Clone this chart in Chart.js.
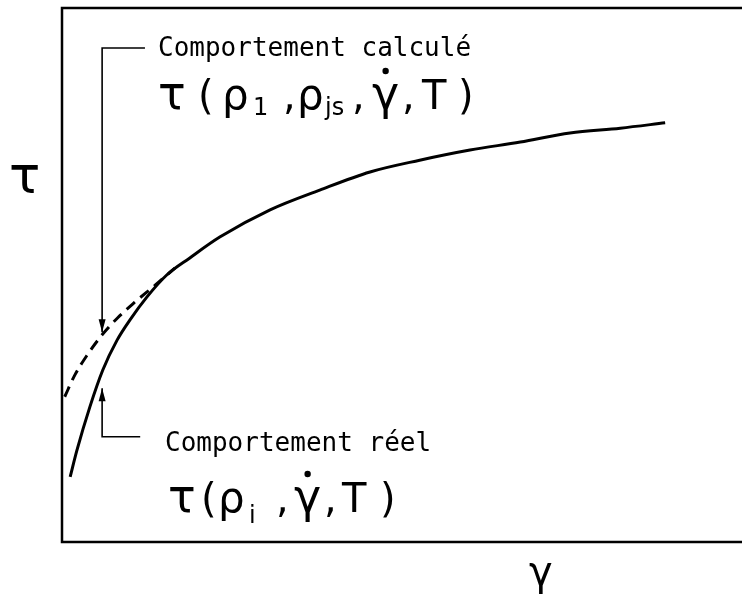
<!DOCTYPE html>
<html><head><meta charset="utf-8">
<script src="https://cdn.jsdelivr.net/npm/chart.js@4/dist/chart.umd.min.js"></script>
<style>html,body{margin:0;padding:0;background:#fff}#c{display:block}</style>
</head><body>
<canvas id="c" width="742" height="598"></canvas>
<script>
// ---- data (arbitrary units 0..100) ----
const realX = [1.2, 2.2, 4.1, 6.0, 8.1, 10.0, 12.5, 15.4, 18.8, 23.2, 30.6, 37.9, 45.3, 52.6, 60.0, 67.4, 74.7, 82.1, 88.7];
const realY = [12.2, 17.2, 25.3, 32.2, 37.8, 41.6, 45.9, 50.0, 53.2, 57.1, 62.2, 65.9, 69.3, 71.5, 73.4, 74.9, 76.6, 77.5, 78.5];
const calcX = [0.4, 1.9, 3.7, 5.9, 8.2, 10.7, 13.7, 16.6];
const calcY = [27.2, 31.3, 35.0, 38.8, 42.0, 44.9, 48.1, 51.3];
const arrowCalcX = [12.2, 5.9, 5.9];
const arrowCalcY = [92.5, 92.5, 39.3];
const arrowRealX = [11.5, 5.9, 5.9];
const arrowRealY = [19.7, 19.7, 28.8];
const axisMin = 0, axisMax = 100;
const labelCalc = 'Comportement calculé';
const labelReal = 'Comportement réel';
const axisTitleY = 'τ';
const axisTitleX = 'γ';

const toPts = (xs, ys) => xs.map((x, i) => ({x, y: ys[i]}));

const MONO = '"DejaVu Sans Mono"';
const SANS = '"DejaVu Sans"';

// formula pieces: text, x position (px), kind
const formulaCalc = [
  ['τ', 158, 'big'], ['(', 198, 'mid'], ['ρ', 222, 'rho'], ['1', 253, 'sub'],
  [',', 283, 'mid'], ['ρ', 297, 'rho'], ['js', 325, 'sub'], [',', 352, 'mid'],
  ['γ', 372, 'dot'], [',', 402, 'mid'], ['T', 422, 'mid'], [')', 458, 'mid']
];
const formulaReal = [
  ['τ', 168, 'big'], ['(', 201, 'mid'], ['ρ', 218, 'rho'], ['i', 249, 'sub'],
  [',', 276, 'mid'], ['γ', 294, 'dot'], [',', 324, 'mid'], ['T', 342, 'mid'], [')', 380, 'mid']
];

function drawFormula(ctx, pieces, base, subDy) {
  pieces.forEach(([t, x, kind]) => {
    if (kind === 'sub') {
      ctx.font = '24px ' + SANS;
      ctx.fillText(t, x, base + subDy);
    } else if (kind === 'mid') {
      ctx.font = '40px ' + SANS;
      ctx.fillText(t, x, base);
    } else if (kind === 'rho') {
      ctx.font = '42px ' + SANS;
      ctx.fillText(t, x, base);
    } else {
      ctx.font = '46px ' + SANS;
      ctx.fillText(t, x, base);
      if (kind === 'dot') {
        const w = ctx.measureText(t).width;
        ctx.beginPath();
        ctx.arc(x + w / 2, base - 38, 3.2, 0, Math.PI * 2);
        ctx.fill();
      }
    }
  });
}

const framePlugin = {
  id: 'frame',
  beforeDatasetsDraw(chart) {
    const {ctx, chartArea: a} = chart;
    ctx.save();
    ctx.strokeStyle = '#000';
    ctx.lineWidth = 2.5;
    ctx.beginPath();
    ctx.moveTo(chart.width, a.top);
    ctx.lineTo(a.left, a.top);
    ctx.lineTo(a.left, a.bottom);
    ctx.lineTo(chart.width, a.bottom);
    ctx.stroke();
    ctx.restore();
  },
  afterDatasetsDraw(chart) {
    const ctx = chart.ctx;
    chart.data.datasets.forEach((ds, i) => {
      if (!ds.arrow) return;
      const pts = chart.getDatasetMeta(i).data;
      const p1 = pts[pts.length - 2], p2 = pts[pts.length - 1];
      const ang = Math.atan2(p2.y - p1.y, p2.x - p1.x);
      const L = 13, W = 3.5;
      ctx.save();
      ctx.fillStyle = '#000';
      ctx.translate(p2.x, p2.y);
      ctx.rotate(ang);
      ctx.beginPath();
      ctx.moveTo(0, 0);
      ctx.lineTo(-L, -W);
      ctx.lineTo(-L, W);
      ctx.closePath();
      ctx.fill();
      ctx.restore();
    });
  },
  afterDraw(chart) {
    const ctx = chart.ctx;
    ctx.save();
    ctx.fillStyle = '#000';
    ctx.textBaseline = 'alphabetic';
    ctx.font = '26px ' + MONO;
    ctx.fillText(labelCalc, 158, 56);
    ctx.fillText(labelReal, 165, 451);
    drawFormula(ctx, formulaCalc, 109, 6);
    drawFormula(ctx, formulaReal, 512, 11);
    ctx.font = '52px ' + SANS;
    ctx.fillText(axisTitleY, 9, 193);
    ctx.font = '40px ' + SANS;
    ctx.fillText(axisTitleX, 529, 585);
    ctx.restore();
  }
};

new Chart(document.getElementById('c'), {
  type: 'scatter',
  data: {
    datasets: [
      {data: toPts(realX, realY), showLine: true, borderColor: '#000', borderWidth: 3, pointRadius: 0, cubicInterpolationMode: 'monotone'},
      {data: toPts(calcX, calcY), showLine: true, borderColor: '#000', borderWidth: 3, borderDash: [11, 7], pointRadius: 0, cubicInterpolationMode: 'monotone'},
      {data: toPts(arrowCalcX, arrowCalcY), showLine: true, borderColor: '#000', borderWidth: 1.6, pointRadius: 0, tension: 0, arrow: true},
      {data: toPts(arrowRealX, arrowRealY), showLine: true, borderColor: '#000', borderWidth: 1.6, pointRadius: 0, tension: 0, arrow: true}
    ]
  },
  options: {
    responsive: false,
    devicePixelRatio: 1,
    animation: false,
    layout: {padding: {left: 62, top: 8, right: 0, bottom: 56}},
    scales: {
      x: {type: 'linear', min: axisMin, max: axisMax, display: false},
      y: {type: 'linear', min: axisMin, max: axisMax, display: false}
    },
    plugins: {legend: {display: false}, tooltip: {enabled: false}}
  },
  plugins: [framePlugin]
});
</script>
</body></html>
